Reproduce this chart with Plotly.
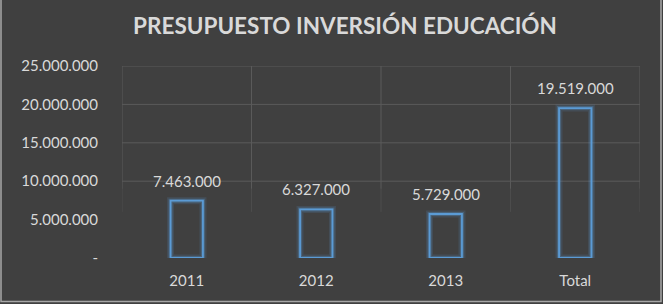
import plotly.graph_objects as go

categories = ["2011", "2012", "2013", "Total"]
values = [7463000, 6327000, 5729000, 19519000]
tick_vals = [0, 5000000, 10000000, 15000000, 20000000, 25000000]
tick_text = ["-", "5.000.000", "10.000.000", "15.000.000", "20.000.000", "25.000.000"]
labels = [f"{v:,}".replace(",", ".") for v in values]

BG = "#404040"
TXT = "#d9d9d9"
GRID = "#5a5a5a"
GRID_FAINT = "#4c4c4c"
BLUE = "#5b9bd5"
FONT = "Lato, Open Sans, sans-serif"

fig = go.Figure()
# glow layers
for w, op in [(7, 0.15), (4, 0.3)]:
    fig.add_trace(go.Bar(x=categories, y=values, width=0.25,
                         marker=dict(color="rgba(0,0,0,0)",
                                     line=dict(color=f"rgba(91,155,213,{op})", width=w)),
                         hoverinfo="skip", showlegend=False))
fig.add_trace(go.Bar(x=categories, y=values, width=0.25,
                     marker=dict(color="rgba(0,0,0,0)", line=dict(color=BLUE, width=1.8)),
                     showlegend=False))

# category axis annotations use the serial index of each category
for i, (v, t) in enumerate(zip(values, labels)):
    fig.add_annotation(x=i, y=v, text=t, showarrow=False, yanchor="bottom", yshift=9,
                       font=dict(family=FONT, size=15, color=TXT))

# gridlines that fade toward the bottom, as in the reference
for yv in tick_vals[2:]:
    fig.add_shape(type="line", xref="paper", yref="y", x0=0, x1=1, y0=yv, y1=yv,
                  line=dict(color=GRID, width=1), layer="below")
for k in range(len(categories) + 1):
    xb = k - 0.5
    fig.add_shape(type="line", xref="x", yref="y", x0=xb, x1=xb, y0=9000000, y1=25000000,
                  line=dict(color=GRID, width=1), layer="below")
    fig.add_shape(type="line", xref="x", yref="y", x0=xb, x1=xb, y0=6000000, y1=9000000,
                  line=dict(color=GRID_FAINT, width=1), layer="below")

fig.add_shape(type="rect", xref="paper", yref="paper",
              x0=(1 - 122) / 518, x1=(661 - 122) / 518,
              y0=(258 - 301.5) / 192, y1=(258 + 2) / 192,
              line=dict(color="#a6a6a6", width=1.5), layer="below")

fig.update_layout(
    width=663, height=304,
    margin=dict(l=122, r=23, t=66, b=46),
    paper_bgcolor=BG, plot_bgcolor=BG,
    barmode="overlay",
    title=dict(text="<b>PRESUPUESTO INVERSIÓN EDUCACIÓN</b>", x=345 / 663, xanchor="center",
               xref="container", y=0.915, yanchor="middle",
               font=dict(family=FONT, size=22.5, color=TXT)),
    xaxis=dict(type="category", showgrid=False, showline=False, ticks="", zeroline=False,
               range=[-0.5, 3.5], ticklabelstandoff=12,
               tickfont=dict(family=FONT, size=15, color=TXT)),
    yaxis=dict(range=[0, 25000000], tickvals=tick_vals, ticktext=tick_text,
               showgrid=False, zeroline=False,
               showline=False, ticks="", ticklabelstandoff=23,
               tickfont=dict(family=FONT, size=15, color=TXT)),
)
fig.write_html("out.html")
